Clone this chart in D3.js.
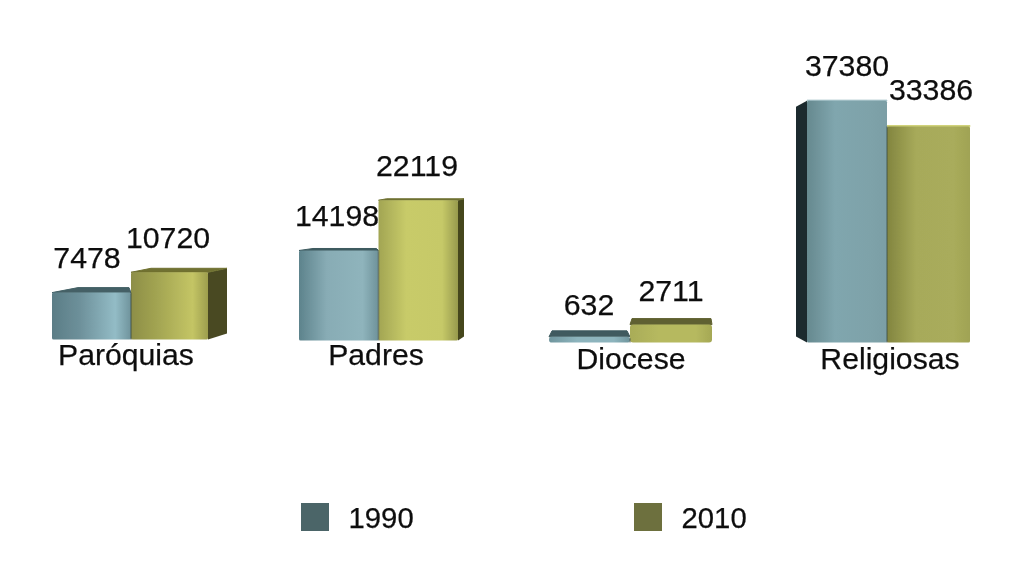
<!DOCTYPE html>
<html><head><meta charset="utf-8">
<script src="https://cdn.jsdelivr.net/npm/d3@7"></script>
<style>html,body{margin:0;background:#fff}svg{display:block}text{font-family:"Liberation Sans",Arial,sans-serif;fill:#111;stroke:#111;stroke-width:.25;text-anchor:middle}</style>
</head><body><svg id="c" width="1024" height="562"></svg>
<script>
// Data
const categories = ["Paróquias","Padres","Diocese","Religiosas"];
const seriesNames = ["1990","2010"];
const values1990 = [7478,14198,632,37380];
const values2010 = [10720,22119,2711,33386];
const legendColors = ["#4b6568","#6d703e"];

// Layout: the picture is a 3D perspective view, so each group has its own origin and scale
const groupLeft  = [52,299,549,807];
const groupEnd   = [208,458,712,970];
const baseY      = [339.5,340.5,342.5,342.5];
const pxPerUnit  = [0.00627,0.00634,0.0066,0.00647];
const frontLift = [[0,0],[0,0],[1.5,0],[0,0]]; // small upward shift for the thinnest bar
// [back-left dx, back-right dx, back dy] of top face, per group and series
const topFace = [[[26,-2,-5],[20,19,-4]],[[14,-2,-2],[8,6,-1.5]],[[3,-3,-6],[2,-1,-6]],[[0,0,-0.5],[0,0,-1]]];
// side face: [series index, dx, dy at top, dy at bottom]
const sideFace = [[1,19,-4,-6],[1,6,-1.5,-4],null,[0,-11,6,-6]];
const splitX = [131,378.5,630,887];
const cornerR = [1.5,1.5,3,1.5];
const gradStops = [
  [["#5b7d86","#6d909a","#93bcc6","#6f939c"],["#8d8e47","#a3a552","#c4c565","#9d9e4d"]],
  [["#5d838c","#88acb5","#8fb4bc","#6e929a"],["#a2a553","#c8cb69","#c6c968","#979a4d"]],
  [["#6f959d","#8db4bd","#8db4bd","#6f959d"],["#a9ac58","#b6b95f","#b6b95f","#a5a855"]],
  [["#66898f","#80a6ae","#7ea2a9","#7b9ea5"],["#82853f","#a7aa5a","#a9ac5b","#a0a354"]]
];
const topColors = [["#446166","#6f7130"],["#3f5b60","#6f7132"],["#3f5a5f","#5f6130"],["#a8c4cb","#d1d37d"]];
const sideColors = [[null,"#494a24"],[null,"#45461f"],[null,null],["#1f2c2e",null]];
// Labels
const valueLabelX = [[87,168],[337,417],[589,671],[847,931]];
const valueLabelY = [[268,248],[226,176],[315,301],[76,100]];
const catLabelX = [126,376,631,890];
const catLabelY = [365,365,369,369];
const legendX = [301,634];

const svg = d3.select("#c");
const defs = svg.append("defs");
const flt = defs.append("filter").attr("id","soft");
flt.append("feGaussianBlur").attr("stdDeviation",0.5);
defs.append("filter").attr("id","softText").append("feGaussianBlur").attr("stdDeviation",0.3);
const chart = svg.append("g").attr("filter","url(#soft)");
const labels = svg.append("g").attr("filter","url(#softText)");

categories.forEach((cat,i)=>{
  const vals=[values1990[i],values2010[i]];
  const y=d3.scaleLinear().domain([0,40000]).range([baseY[i],baseY[i]-40000*pxPerUnit[i]]);
  const x=d3.scaleOrdinal().domain(seriesNames).range([groupLeft[i],splitX[i]]);
  const xEnd=d3.scaleOrdinal().domain(seriesNames).range([splitX[i],groupEnd[i]]);
  const g=chart.append("g");
  const order = sideFace[i]&&sideFace[i][0]===0 ? [1,0] : [0,1];
  order.forEach(s=>{
    const name=seriesNames[s], x0=x(name), x1=xEnd(name), yBase=y(0);
    const front=y(vals[s])-frontLift[i][s];
    const id=`g${i}${s}`;
    const lg=defs.append("linearGradient").attr("id",id).attr("x1",0).attr("x2",1).attr("y1",0).attr("y2",0);
    gradStops[i][s].forEach((c,k)=>lg.append("stop").attr("offset",[0,.35,.8,1][k]).attr("stop-color",c));
    const tf=topFace[i][s];
    const bY=front+tf[2];
    if(sideFace[i]&&sideFace[i][0]===s){
      const sf=sideFace[i], ex=sf[1]>0?x1:x0;
      g.append("path").attr("fill",sideColors[i][s])
       .attr("d",d3.line()([[ex,front],[ex+sf[1],front+sf[2]],[ex+sf[1],yBase+sf[3]],[ex,yBase]])+"Z");
    }
    g.append("path").attr("fill",topColors[i][s]).attr("stroke",topColors[i][s]).attr("stroke-width",1).attr("stroke-linejoin","round")
     .attr("d",d3.line()([[x0,front],[x0+tf[0],bY],[x1+tf[1],bY],[x1,front]])+"Z");
    g.append("rect").attr("x",x0).attr("width",x1-x0).attr("y",front).attr("height",yBase-front)
     .attr("rx",cornerR[i]).attr("fill",`url(#${id})`);
  });
});

// separators between the bars of a group
categories.forEach((c,i)=>{
  const y=d3.scaleLinear().domain([0,40000]).range([baseY[i],baseY[i]-40000*pxPerUnit[i]]);
  chart.append("line").attr("x1",splitX[i]).attr("x2",splitX[i])
    .attr("y1",y(Math.min(values1990[i],values2010[i])))
    .attr("y2",y(0)).attr("stroke","#3d4a42").attr("stroke-opacity",.55).attr("stroke-width",1.5);
});

// Text
categories.forEach((c,i)=>{
  [values1990[i],values2010[i]].forEach((v,s)=>{
    labels.append("text").attr("x",valueLabelX[i][s]).attr("y",valueLabelY[i][s]).attr("font-size",30.3).text(v);
  });
  labels.append("text").attr("x",catLabelX[i]).attr("y",catLabelY[i]).attr("font-size",30.2).text(c);
});
seriesNames.forEach((n,s)=>{
  svg.append("rect").attr("x",legendX[s]).attr("y",503).attr("width",28).attr("height",28).attr("fill",legendColors[s]);
  labels.append("text").attr("x",legendX[s]+47.5).attr("y",527.5).attr("font-size",29.3).style("text-anchor","start").text(n);
});
</script></body></html>
